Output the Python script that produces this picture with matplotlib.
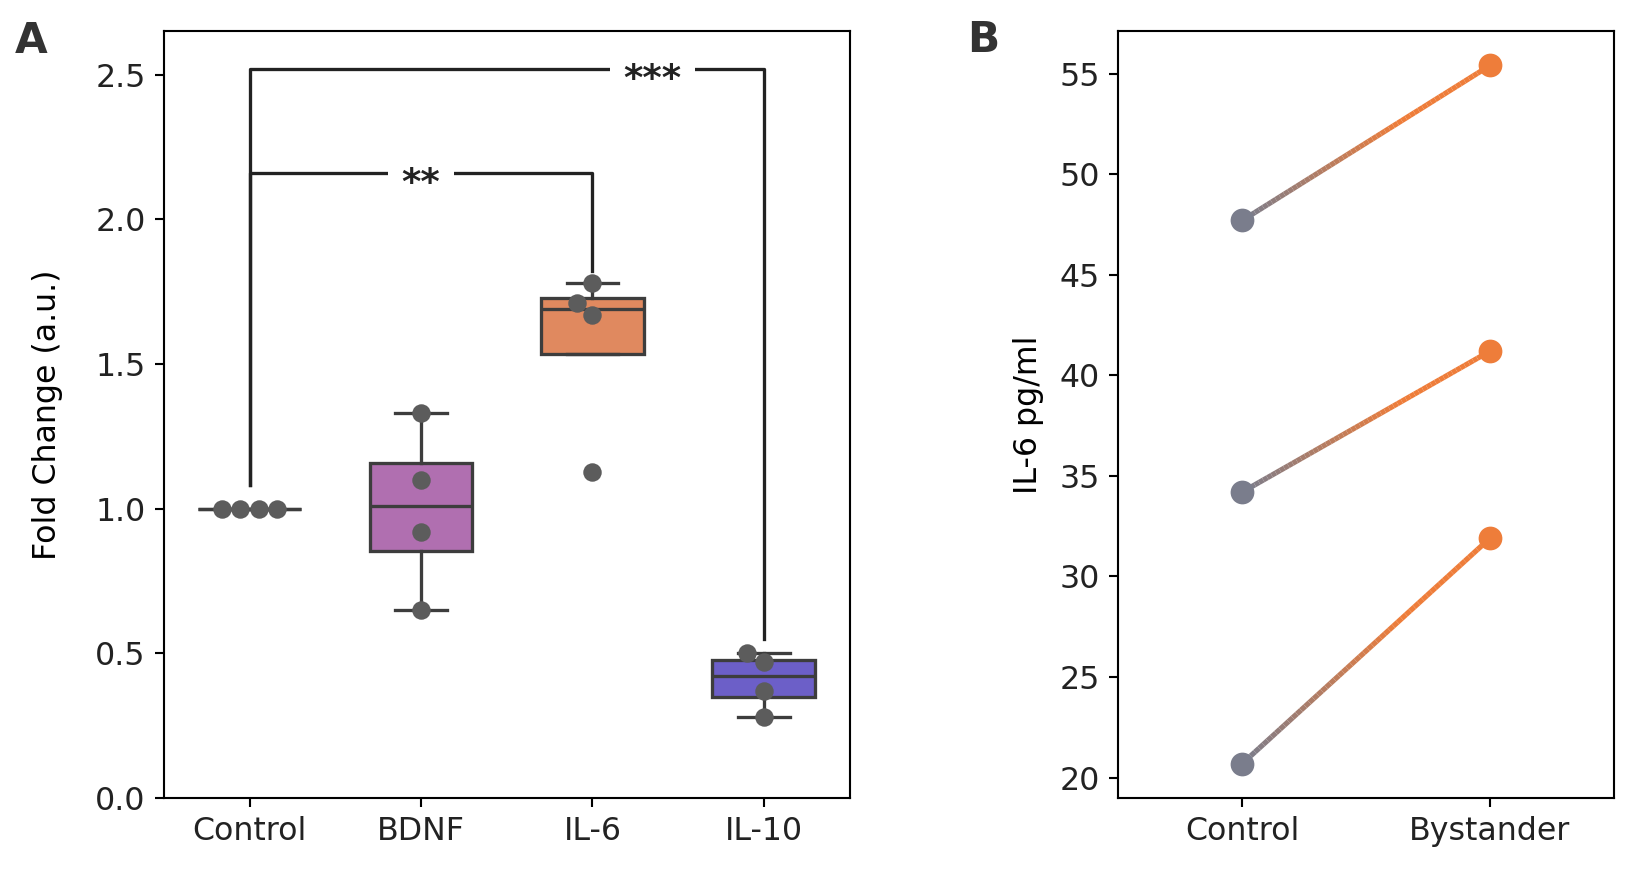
import numpy as np
import pandas as pd
import seaborn as sns
import matplotlib
matplotlib.use("Agg")
from matplotlib import pyplot as plt
from matplotlib.collections import LineCollection
from matplotlib.colors import to_rgb

# Panel A: fold change per group
groups = ["Control", "BDNF", "IL-6", "IL-10"]
control_vals = [1.0, 1.0, 1.0, 1.0]
bdnf_vals = [1.33, 1.10, 0.92, 0.65]
il6_vals = [1.78, 1.71, 1.67, 1.125]
il10_vals = [0.50, 0.47, 0.37, 0.28]
box_colors = ["#b06fb0", "#b06fb0", "#e0895f", "#6c5fc8"]

# significance brackets: (group a, group b, height, leg a bottom, leg b bottom, label, label x)
brackets = [
    (0, 2, 2.16, 1.08, 1.82, "**", 1.0),
    (0, 3, 2.52, 1.08, 0.55, "***", 2.35),
]

# Panel B: paired IL-6 values
pair_labels = ["Control", "Bystander"]
il6_control = [47.7, 34.2, 20.7]
il6_bystander = [55.4, 41.2, 31.9]
grey_c = "#7a7d8c"
orange_c = "#ee7d3a"

plt.rcParams["font.size"] = 12
plt.rcParams["text.color"] = "#222222"
plt.rcParams["xtick.labelcolor"] = "#222222"
plt.rcParams["ytick.labelcolor"] = "#222222"

fig_w, fig_h = 1640 / 190, 869 / 190
fig = plt.figure(figsize=(fig_w, fig_h), dpi=190)
posA = [0.100, 0.082, 0.418, 0.882]
axA = fig.add_axes(posA)
axB = fig.add_axes([0.682, 0.082, 0.302, 0.882])

# ---- panel A ----
all_vals = [control_vals, bdnf_vals, il6_vals, il10_vals]
line_c = "#3d3d3d"
pt_color = "#5c5c5c"
pt_size = 7
bp = axA.boxplot(all_vals, positions=range(4), widths=0.6, patch_artist=True,
                 showfliers=False, whis=1.5,
                 boxprops=dict(edgecolor=line_c, linewidth=1.25),
                 medianprops=dict(color=line_c, linewidth=1.25),
                 whiskerprops=dict(color=line_c, linewidth=1.25),
                 capprops=dict(color=line_c, linewidth=1.25))
for patch, c in zip(bp["boxes"], box_colors):
    patch.set_facecolor(c)

# swarm for the groups with spread values
df = pd.DataFrame({
    "group": np.repeat(groups[1:], 4),
    "fold": np.concatenate(all_vals[1:]),
})
sns.swarmplot(data=df, x="group", y="fold", order=groups, color=pt_color,
              size=pt_size, ax=axA, zorder=3)

# control values are all tied: lay them side by side, centred
xlim = (-0.5, 3.5)
step = (pt_size / 72) / (posA[2] * fig_w) * (xlim[1] - xlim[0])
n = len(control_vals)
cx = (np.arange(n) - (n - 1) / 2) * step
axA.plot(cx, control_vals, "o", color=pt_color, ms=pt_size, mew=0, zorder=3)

for a, b, h, ya, yb, lab, lx in brackets:
    axA.plot([a, a, b, b], [ya, h, h, yb], color="#222222", lw=1.25, zorder=2)
    axA.text(lx, h - 0.035, lab, ha="center", va="center", fontsize=14,
             fontweight="bold", color="#222222",
             bbox=dict(facecolor="white", edgecolor="none", pad=5), zorder=4)

axA.set_xlim(*xlim)
axA.set_ylim(0, 2.65)
axA.set_yticks([0, 0.5, 1.0, 1.5, 2.0, 2.5])
axA.set_xticks(range(4))
axA.set_xticklabels(groups)
axA.set_xlabel("")
axA.set_ylabel("Fold Change (a.u.)", labelpad=12)

# ---- panel B ----
g = np.array(to_rgb(grey_c))
o = np.array(to_rgb(orange_c))
t = np.linspace(0, 1, 60)
for yc, yb in zip(il6_control, il6_bystander):
    xs = t
    ys = yc + (yb - yc) * t
    pts = np.column_stack([xs, ys]).reshape(-1, 1, 2)
    segs = np.concatenate([pts[:-1], pts[1:]], axis=1)
    cols = [g + (o - g) * min(1, v * 1.6) for v in t[:-1]]
    axB.add_collection(LineCollection(segs, colors=cols, linewidths=2, zorder=2))
axB.plot([0] * len(il6_control), il6_control, "o", color=grey_c, ms=8, zorder=3)
axB.plot([1] * len(il6_bystander), il6_bystander, "o", color=orange_c, ms=8, zorder=3)
axB.set_xlim(-0.5, 1.5)
axB.set_ylim(19.0, 57.1)
axB.set_xticks([0, 1])
axB.set_xticklabels(pair_labels)
axB.set_ylabel("IL-6 pg/ml", labelpad=6)

fig.text(0.009, 0.939, "A", fontsize=16, fontweight="bold", color="#333333")
fig.text(0.590, 0.940, "B", fontsize=16, fontweight="bold", color="#333333")

fig.savefig("out.png", dpi=190)
